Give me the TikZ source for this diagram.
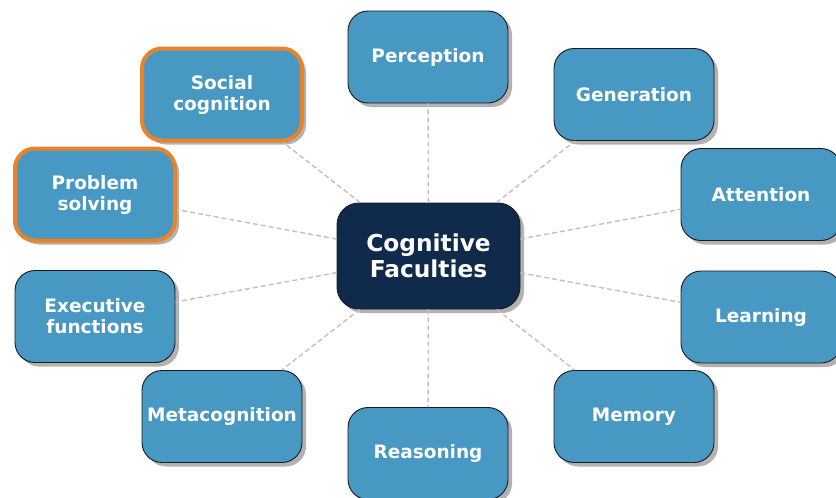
\documentclass[tikz,border=0pt]{standalone}
\usepackage{fontspec}
\setmainfont{DejaVu Sans}
\usetikzlibrary{shadows}
\definecolor{boxblue}{HTML}{4898C4}
\definecolor{navy}{HTML}{0F2A4A}
\definecolor{accent}{HTML}{E8832A}
\definecolor{edgegray}{HTML}{C0C0C0}
\definecolor{bordr}{HTML}{1A1A1A}
\tikzset{
  faculty/.style={rectangle, rounded corners=20pt, minimum width=160pt, minimum height=92pt,
    inner sep=0pt, align=center, fill=boxblue, draw=bordr, line width=0.9pt, text=white,
    font=\bfseries\fontsize{18.5}{21}\selectfont,
    drop shadow={shadow xshift=4pt, shadow yshift=-4pt, fill=black!30, opacity=1}},
  highlight/.style={draw=accent, line width=4pt},
  hub/.style={rectangle, rounded corners=22pt, minimum width=183pt, minimum height=106pt,
    inner sep=0pt, align=center, fill=navy, draw=bordr, line width=0.9pt, text=white,
    font=\bfseries\fontsize{23.3}{26}\selectfont,
    drop shadow={shadow xshift=4pt, shadow yshift=-4pt, fill=black!30, opacity=1}},
  link/.style={draw=edgegray, line width=1.4pt, dash pattern=on 5pt off 3pt}
}
\begin{document}
\begin{tikzpicture}[x=1pt,y=-1pt]
\useasboundingbox (0,0) rectangle (836,498);
\node[hub] (c) at (428.5,256) {Cognitive\\Faculties};
\node[faculty] (per) at (428,57) {Perception};
\node[faculty] (gen) at (634,94.5) {Generation};
\node[faculty] (att) at (761,194.5) {Attention};
\node[faculty] (lea) at (761,317) {Learning};
\node[faculty] (mem) at (634,416.5) {Memory};
\node[faculty] (rea) at (428,453.5) {Reasoning};
\node[faculty] (met) at (222,416.5) {Metacognition};
\node[faculty] (exe) at (95,316.5) {Executive\\functions};
\node[faculty,highlight] (pro) at (95,194.5) {Problem\\solving};
\node[faculty,highlight] (soc) at (222,94.5) {Social\\cognition};
\foreach \n in {per,gen,att,lea,mem,rea,met,exe,pro,soc}{
  \path[link] (c) -- (\n);
}
\end{tikzpicture}
\end{document}
